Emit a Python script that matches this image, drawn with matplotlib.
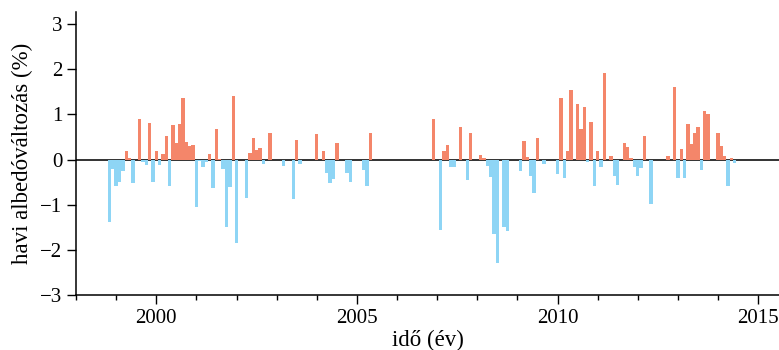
import numpy as np
import matplotlib
matplotlib.use('Agg')
import matplotlib.pyplot as plt
from matplotlib.ticker import MultipleLocator

plt.rcParams['font.family'] = ['Liberation Serif', 'DejaVu Serif']

# monthly albedo change (%), first block starts Nov 1998, second Dec 2006
start1 = 1998 + 10 / 12
vals1 = [-1.39, -0.21, -0.59, -0.50, -0.26, 0.18, 0.03, -0.52, 0.0, 0.89,
         -0.06, -0.13, 0.81, -0.50, 0.19, -0.13, 0.13, 0.52, -0.59, 0.76,
         0.36, 0.78, 1.36, 0.39, 0.31, 0.33, -1.05, -0.04, -0.16, -0.06,
         0.13, -0.64, 0.67, 0.02, -0.20, -1.50, -0.61, 1.41, -1.84, 0.0,
         0.0, -0.85, 0.15, 0.48, 0.22, 0.25, -0.10, 0.0, 0.58, 0.0,
         0.0, 0.0, -0.15, 0.0, -0.02, -0.87, 0.44, -0.10, -0.02, 0.0,
         0.0, 0.0, 0.57, 0.0, 0.18, -0.30, -0.52, -0.42, 0.36, 0.0,
         0.0, -0.30, -0.50, 0.0, 0.0, 0.0, -0.24, -0.59, 0.59]

start2 = 2006 + 11 / 12
vals2 = [0.89, 0.0, -1.56, 0.18, 0.33, -0.17, -0.16, 0.0, 0.73, 0.0,
         -0.46, 0.59, 0.0, 0.0, 0.10, 0.04, -0.15, -0.39, -1.65, -2.28,
         0.0, -1.50, -1.58, 0.0, 0.0, 0.0, -0.26, 0.42, 0.06, -0.36,
         -0.74, 0.48, 0.0, -0.10, 0.0, 0.0, 0.0, -0.33, 1.37, -0.41,
         0.18, 1.55, 0.0, 1.24, 0.68, 1.17, -0.05, 0.84, -0.58, 0.19,
         -0.16, 1.91, 0.0, 0.09, -0.37, -0.56, 0.0, 0.36, 0.27, 0.03,
         -0.16, -0.37, -0.19, 0.53, 0.0, -0.98, 0.0, 0.0, 0.0, 0.0,
         0.07, 0.0, 1.61, -0.41, 0.24, -0.41, 0.78, 0.35, 0.59, 0.73,
         -0.24, 1.08, 1.02, 0.0, 0.0, 0.59, 0.30, 0.07, -0.59, 0.03,
         -0.07]

pos_color = '#F4866A'
neg_color = '#8ED5F5'

t = np.concatenate([start1 + np.arange(len(vals1)) / 12,
                    start2 + np.arange(len(vals2)) / 12])
v = np.array(vals1 + vals2)
colors = [pos_color if x > 0 else neg_color for x in v]

fig = plt.figure(figsize=(7.79, 3.5), dpi=100)
ax = fig.add_axes([0.0976, 0.157, 0.9024, 0.809])

ax.axhline(0, color='#222222', lw=1.3, zorder=1)
ax.bar(t, v, width=1 / 12, color=colors, linewidth=0, zorder=2)

ax.set_xlim(1998, 2015.52)
ax.set_ylim(-3, 3.27)
ax.xaxis.set_major_locator(MultipleLocator(5))
ax.xaxis.set_minor_locator(MultipleLocator(1))
ax.set_yticks([-3, -2, -1, 0, 1, 2, 3])
ax.set_yticklabels(['\u22123', '\u22122', '\u22121', '0', '1', '2', '3'])

ax.tick_params(axis='both', which='major', length=6.5, width=1, labelsize=15, pad=3.5)
ax.tick_params(axis='x', which='minor', length=3.6, width=1)
for s in ['top', 'right']:
    ax.spines[s].set_visible(False)
for s in ['left', 'bottom']:
    ax.spines[s].set_linewidth(1.1)

ax.set_xlabel('idő (év)', fontsize=16.5, labelpad=1.5)
ax.set_ylabel('havi albedóváltozás (%)', fontsize=16.5, labelpad=5)

fig.savefig('out.png', dpi=100)
